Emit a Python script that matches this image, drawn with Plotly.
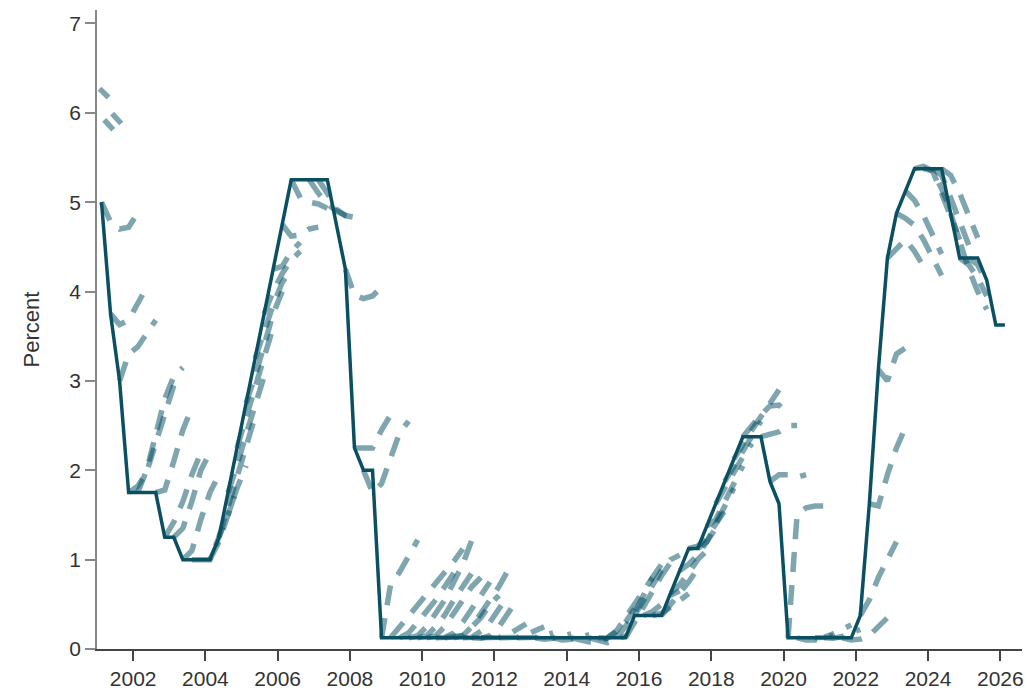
import plotly.graph_objects as go

# Policy rate (end-of-quarter target midpoint), quarterly from 2001 Q1, plotted mid-quarter
rate_first_quarter = 2001.125
policy_rate = [
    5.0, 3.75, 3.0, 1.75,
    1.75, 1.75, 1.75, 1.25,
    1.25, 1.0, 1.0, 1.0,
    1.0, 1.25, 1.75, 2.25,
    2.75, 3.25, 3.75, 4.25,
    4.75, 5.25, 5.25, 5.25,
    5.25, 5.25, 4.75, 4.25,
    2.25, 2.0, 2.0, 0.125,
    0.125, 0.125, 0.125, 0.125,
    0.125, 0.125, 0.125, 0.125,
    0.125, 0.125, 0.125, 0.125,
    0.125, 0.125, 0.125, 0.125,
    0.125, 0.125, 0.125, 0.125,
    0.125, 0.125, 0.125, 0.125,
    0.125, 0.125, 0.125, 0.375,
    0.375, 0.375, 0.375, 0.625,
    0.875, 1.125, 1.125, 1.375,
    1.625, 1.875, 2.125, 2.375,
    2.375, 2.375, 1.875, 1.625,
    0.125, 0.125, 0.125, 0.125,
    0.125, 0.125, 0.125, 0.125,
    0.375, 1.625, 3.125, 4.375,
    4.875, 5.125, 5.375, 5.375,
    5.375, 5.375, 4.875, 4.375,
    4.375, 4.375, 4.125, 3.625,
    3.625,
]

# Market-implied paths: start date (decimal year) and quarterly values
forecast_start = [
    2001.07, 2001.2, 2001.42,
    2001.125, 2001.375, 2001.625, 2001.875, 2002.125,
    2002.625, 2002.875, 2003.125, 2003.375, 2003.625,
    2004.125, 2004.375, 2004.625, 2004.875, 2005.125, 2005.375, 2005.625,
    2005.875, 2006.125, 2006.375, 2006.875, 2007.125, 2007.875,
    2008.125, 2008.375, 2008.875,
    2009.125, 2009.375, 2009.625, 2009.875, 2010.125, 2010.375, 2010.625,
    2010.875, 2011.125, 2011.375, 2011.625, 2012.125, 2012.625, 2013.125,
    2013.625, 2014.125, 2014.625,
    2014.875, 2015.125, 2015.375, 2015.625, 2015.875, 2016.125, 2016.375,
    2016.625, 2016.875, 2017.125, 2017.375,
    2017.625, 2017.875, 2018.125, 2018.375, 2018.625, 2018.875, 2019.375,
    2019.625, 2020.125,
    2020.375, 2020.875, 2021.125, 2021.625,
    2022.125, 2022.375, 2022.625, 2022.875, 2023.125, 2023.375, 2023.625,
    2023.875, 2024.125, 2024.375, 2024.625, 2024.875, 2025.125,
]
forecast_paths = [
    [6.27, 6.17], [5.92, 5.81], [5.99, 5.88],
    [5.0, 4.78, 4.7, 4.72, 4.88],
    [3.75, 3.63, 3.68, 3.87, 4.05],
    [3.0, 3.3, 3.38, 3.52, 3.68],
    [1.75, 1.82, 1.98, 2.3, 2.65, 2.95],
    [1.75, 2.0, 2.4, 2.8, 3.05, 3.15],
    [1.75, 1.78, 2.1, 2.45, 2.7],
    [1.25, 1.42, 1.65, 1.95, 2.2],
    [1.25, 1.35, 1.65, 2.0, 2.2],
    [1.0, 1.1, 1.45, 1.75, 1.95],
    [1.0, 1.0, 1.0, 1.25, 1.5, 1.8],
    [1.0, 1.2, 1.5, 1.8, 2.05],
    [1.25, 1.6, 1.95, 2.3, 2.6],
    [1.75, 2.05, 2.4, 2.75, 3.05],
    [2.25, 2.6, 2.95, 3.3, 3.6],
    [2.75, 3.05, 3.4, 3.75, 4.0],
    [3.25, 3.55, 3.85, 4.1, 4.25],
    [3.75, 4.0, 4.2, 4.35, 4.45],
    [4.25, 4.28, 4.45, 4.55],
    [4.75, 4.62, 4.63, 4.7, 4.72],
    [5.25, 5.05, 5.0, 4.98, 4.93],
    [5.25, 5.1, 4.98, 4.9, 4.85, 4.82],
    [5.25, 5.1, 4.92, 4.85, 4.83],
    [4.25, 3.96, 3.92, 3.95, 4.05],
    [2.25, 2.25, 2.25, 2.45, 2.62],
    [2.0, 1.75, 1.85, 2.15, 2.42, 2.55],
    [0.125, 0.72, 0.86, 1.05, 1.22],
    [0.125, 0.25, 0.38, 0.5, 0.62, 0.74, 0.86, 0.98, 1.12],
    [0.125, 0.18, 0.3, 0.42, 0.55, 0.7, 0.85],
    [0.125, 0.15, 0.25, 0.4, 0.55, 0.75, 0.95, 1.22],
    [0.125, 0.15, 0.25, 0.38, 0.55, 0.7, 0.85],
    [0.125, 0.15, 0.25, 0.4, 0.55, 0.7, 0.8],
    [0.125, 0.13, 0.18, 0.3, 0.45, 0.6, 0.75],
    [0.125, 0.13, 0.15, 0.25, 0.35, 0.5, 0.6],
    [0.125, 0.15, 0.25, 0.4, 0.55, 0.7, 0.88],
    [0.125, 0.13, 0.2, 0.3, 0.45, 0.6],
    [0.125, 0.12, 0.15, 0.25, 0.4, 0.55],
    [0.125, 0.12, 0.13, 0.16, 0.22, 0.28],
    [0.125, 0.12, 0.13, 0.16, 0.2, 0.25],
    [0.125, 0.12, 0.13, 0.15, 0.18],
    [0.125, 0.11, 0.12, 0.14, 0.17],
    [0.125, 0.1, 0.11, 0.13, 0.16],
    [0.125, 0.1, 0.08, 0.09, 0.12],
    [0.125, 0.09, 0.07, 0.1, 0.15],
    [0.125, 0.12, 0.2, 0.3, 0.45],
    [0.125, 0.2, 0.35, 0.5, 0.65, 0.8],
    [0.125, 0.25, 0.4, 0.6, 0.8, 0.95],
    [0.125, 0.3, 0.5, 0.65, 0.82, 0.97],
    [0.375, 0.55, 0.7, 0.88, 1.0, 1.05],
    [0.375, 0.42, 0.5, 0.6, 0.65],
    [0.375, 0.4, 0.47, 0.55, 0.62],
    [0.375, 0.5, 0.62, 0.75, 0.9],
    [0.625, 0.72, 0.85, 1.0, 1.1],
    [0.875, 0.95, 1.05, 1.2, 1.35],
    [1.125, 1.15, 1.25, 1.4, 1.55],
    [1.125, 1.2, 1.4, 1.6, 1.8],
    [1.375, 1.45, 1.65, 1.85, 2.05],
    [1.625, 1.8, 2.0, 2.15, 2.3],
    [1.875, 2.05, 2.2, 2.4, 2.55],
    [2.125, 2.3, 2.45, 2.6, 2.75, 2.9],
    [2.375, 2.5, 2.62, 2.72, 2.73, 2.62],
    [2.375, 2.4, 2.43, 2.5, 2.5],
    [1.875, 1.95, 1.95, 1.92, 1.95],
    [0.125, 1.5, 1.58, 1.6, 1.6],
    [0.125, 0.1, 0.1, 0.12, 0.15],
    [0.125, 0.13, 0.17, 0.22, 0.27],
    [0.125, 0.12, 0.14, 0.18, 0.22],
    [0.125, 0.1, 0.11, 0.15, 0.25, 0.35],
    [0.375, 0.55, 0.8, 1.0, 1.2],
    [1.625, 1.6, 1.95, 2.25, 2.48],
    [3.125, 3.0, 3.3, 3.37, 3.33],
    [4.375, 4.48, 4.58, 4.45, 4.28],
    [4.875, 4.82, 4.74, 4.58, 4.38, 4.18],
    [5.125, 5.02, 4.85, 4.65, 4.42],
    [5.375, 5.4, 5.35, 5.15, 4.9],
    [5.375, 5.35, 5.1, 4.82, 4.58],
    [5.375, 5.3, 5.05, 4.78, 4.52],
    [5.375, 5.3, 5.1, 4.85, 4.6],
    [4.875, 4.55, 4.25, 4.0, 3.8],
    [4.375, 4.3, 4.15, 3.95],
    [4.375, 4.3, 4.1],
]

year_ticks = list(range(2002, 2027, 2))
percent_ticks = list(range(0, 8))

DARK = "#0b4f63"
LIGHT = "rgba(0,76,95,0.5)"
FONT = "Liberation Sans, Arial, sans-serif"
TXT = "#333333"

fig = go.Figure()
for start, vals in zip(forecast_start, forecast_paths):
    xs = [start + 0.25 * k for k in range(len(vals))]
    fig.add_trace(go.Scatter(
        x=xs, y=vals, mode="lines",
        line=dict(color=LIGHT, width=5.5, dash="20px,13px"),
        hoverinfo="skip", showlegend=False,
    ))

rate_x = [rate_first_quarter + 0.25 * i for i in range(len(policy_rate))]
fig.add_trace(go.Scatter(
    x=rate_x, y=policy_rate, mode="lines",
    line=dict(color=DARK, width=3.5),
    showlegend=False,
))

fig.update_layout(
    width=1027, height=690,
    margin=dict(l=97, r=5, t=10, b=41, autoexpand=False),
    plot_bgcolor="white", paper_bgcolor="white",
    font=dict(family=FONT, size=21, color=TXT),
)
fig.update_xaxes(
    range=[2001.0, 2026.6],
    tickvals=year_ticks, ticktext=[str(y) for y in year_ticks],
    showline=True, linecolor="#444444", linewidth=1.5,
    ticks="outside", ticklen=10, tickwidth=1.5, tickcolor="#444444",
    showgrid=False, zeroline=False, automargin=False,
    tickfont=dict(family=FONT, size=21, color=TXT),
)
fig.update_yaxes(
    range=[0, 7.15],
    tickvals=percent_ticks,
    showline=True, linecolor="#888888", linewidth=1.5,
    ticks="outside", ticklen=10, tickwidth=1.5, tickcolor="#888888",
    showgrid=False, zeroline=False, automargin=False,
    tickfont=dict(family=FONT, size=21, color=TXT),
    title=dict(text="Percent", font=dict(family=FONT, size=22, color=TXT), standoff=24),
)

fig.write_html(
    "out.html",
    config={"displayModeBar": False},
    post_script="document.body.style.margin='0px';document.body.style.padding='0px';",
)
